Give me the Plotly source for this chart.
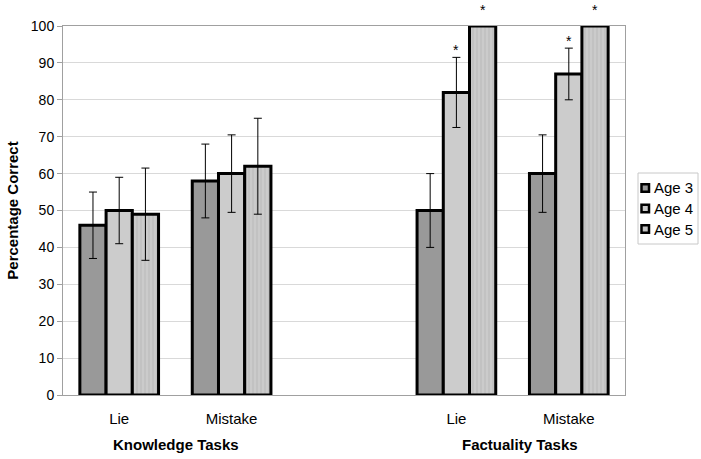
import plotly.graph_objects as go

categories = ["K-Lie", "K-Mistake", "gap", "F-Lie", "F-Mistake"]
tick_labels = ["Lie", "Mistake", "", "Lie", "Mistake"]
series_names = ["Age 3", "Age 4", "Age 5"]
age3 = [46, 58, None, 50, 60]
age4 = [50, 60, None, 82, 87]
age5 = [49, 62, None, 100, 100]
err3 = [9, 10, None, 10, 10.5]
err4 = [9, 10.5, None, 9.5, 7]
err5 = [12.5, 13, None, 0, 0]
group_labels = ["Knowledge Tasks", "Factuality Tasks"]
# significance asterisks: (category, series index)
stars = [("F-Lie", 1), ("F-Lie", 2), ("F-Mistake", 1), ("F-Mistake", 2)]

FONT = "Liberation Sans, Arial, sans-serif"
W, H = 701, 459
ML, MR, MT, MB = 63, 76, 26, 64
PW, PH = W - ML - MR, H - MT - MB

def px_x(px):
    return (px - ML) / PW

def px_y(py):
    return (H - MB - py) / PH

fig = go.Figure()
colors = ["#999999", "#cccccc", "#c4c4c4"]
vals = [age3, age4, age5]
errs = [err3, err4, err5]
for i in range(3):
    marker = dict(color=colors[i], line=dict(color="black", width=3))
    if i == 2:
        marker["pattern"] = dict(shape="|", bgcolor="#cbcbcb", fgcolor="#b2b2b2", size=4, solidity=0.35)
    fig.add_trace(go.Bar(
        x=categories, y=vals[i], name=series_names[i], marker=marker, showlegend=False,
        error_y=dict(type="data", array=errs[i], visible=True, color="black", thickness=1, width=4),
    ))

bar_w_px = PW / 5 * 0.7 / 3
for cat, si in stars:
    idx = categories.index(cat)
    top = vals[si][idx] + (errs[si][idx] or 0)
    fig.add_annotation(x=cat, y=top / 100.0, text="*", showarrow=False, xref="x", yref="paper",
                       yanchor="bottom", xanchor="center", yshift=(-3 if errs[si][idx] else 6),
                       xshift=(si - 1) * bar_w_px, font=dict(size=14, color="#000000", family=FONT))

group_x = [px_x(176), px_x(520)]
for gi, lab in enumerate(group_labels):
    fig.add_annotation(x=group_x[gi], y=-0.105, xref="paper", yref="paper", text="<b>" + lab + "</b>",
                       showarrow=False, xanchor="center", yanchor="top",
                       font=dict(size=15, color="black", family=FONT))

# custom legend
fig.add_shape(type="rect", xref="paper", yref="paper", x0=px_x(638), x1=px_x(698), y0=px_y(244), y1=px_y(173),
              line=dict(color="#c8c8c8", width=1), fillcolor="white")
leg_y = [188, 208.5, 229]
for i in range(3):
    fig.add_shape(type="rect", xref="paper", yref="paper", x0=px_x(641.5), x1=px_x(649),
                  y0=px_y(leg_y[i] + 3.7), y1=px_y(leg_y[i] - 3.7),
                  line=dict(color="black", width=2.5), fillcolor=colors[i])
    fig.add_annotation(x=px_x(652), y=px_y(leg_y[i]), xref="paper", yref="paper", text=series_names[i],
                       showarrow=False, xanchor="left", yanchor="middle",
                       font=dict(size=15, color="black", family=FONT))

fig.update_layout(
    width=W, height=H,
    margin=dict(l=ML, r=MR, t=MT, b=MB, autoexpand=False),
    paper_bgcolor="white", plot_bgcolor="white",
    barmode="group", bargap=0.3, bargroupgap=0,
    font=dict(family=FONT, size=13, color="black"),
    showlegend=False,
    xaxis=dict(tickmode="array", tickvals=categories, ticktext=tick_labels, showgrid=False,
               showline=True, linecolor="#a0a0a0", linewidth=1, mirror=True, ticks="", ticklabelstandoff=10,
               tickfont=dict(size=15, family=FONT)),
    yaxis=dict(range=[0, 100], dtick=10, showgrid=True, gridcolor="#d9d9d9", zeroline=False,
               showline=True, linecolor="#a0a0a0", linewidth=1, mirror=True, ticks="outside", ticklen=5,
               tickcolor="#a0a0a0", tickfont=dict(size=14, family=FONT),
               title=dict(text="<b>Percentage Correct</b>", font=dict(size=15, family=FONT), standoff=8)),
)
fig.write_html("out.html", config={"displayModeBar": False},
               post_script="document.body.style.margin='0';document.body.style.padding='0';")
